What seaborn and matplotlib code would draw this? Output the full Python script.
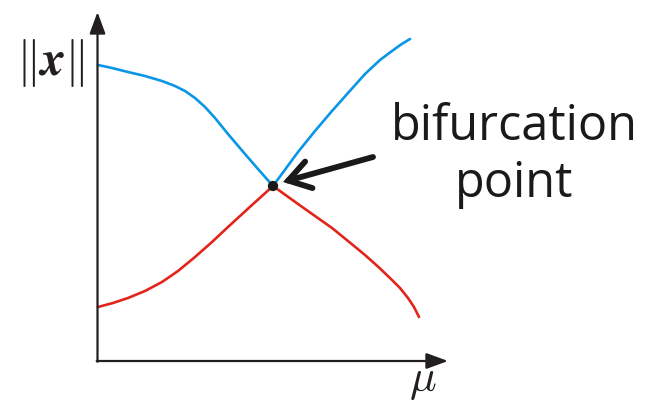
import numpy as np
import pandas as pd
import matplotlib
matplotlib.use("Agg")
import matplotlib.pyplot as plt
import seaborn as sns

# Upper branch (blue): ||x|| falls to the bifurcation point, then rises
mu_upper = [0.005, 0.145, 0.305, 0.475, 0.645, 0.775, 0.875, 0.975, 1.075,
            1.175, 1.305, 1.475, 1.605, 1.755,
            2.005, 2.175, 2.345, 2.505, 2.675, 2.825, 2.945, 3.035, 3.125]
norm_upper = [2.96, 2.93, 2.89, 2.85, 2.80, 2.75, 2.70, 2.63, 2.54,
              2.43, 2.27, 2.07, 1.92, 1.75,
              2.09, 2.30, 2.50, 2.68, 2.87, 3.01, 3.10, 3.165, 3.22]

# Lower branch (red): ||x|| rises to the bifurcation point, then falls
mu_lower = [0.005, 0.155, 0.305, 0.475, 0.645, 0.805, 0.975, 1.145, 1.305,
            1.425, 1.545, 1.645, 1.755,
            2.005, 2.175, 2.345, 2.505, 2.675, 2.815, 2.945, 3.025, 3.105,
            3.165, 3.215]
norm_lower = [0.54, 0.58, 0.63, 0.70, 0.79, 0.90, 1.04, 1.19, 1.34,
              1.45, 1.56, 1.65, 1.75,
              1.57, 1.45, 1.33, 1.20, 1.06, 0.935, 0.81, 0.73, 0.63,
              0.54, 0.44]

bif_mu = [1.755]
bif_norm = [1.75]

BLUE = "#0a96e6"
RED = "#e1251b"
INK = "#231f20"

sns.set_theme(style="white")
plt.rcParams["mathtext.fontset"] = "cm"

fig = plt.figure(figsize=(6.56, 4.03), dpi=100)
ax = fig.add_axes([0, 0, 1, 1])
ax.set_xlim(-0.975, 5.585)
ax.set_ylim(-0.42, 3.61)
ax.axis("off")

upper = pd.DataFrame({"mu": mu_upper, "norm": norm_upper})
lower = pd.DataFrame({"mu": mu_lower, "norm": norm_lower})
sns.lineplot(data=upper, x="mu", y="norm", color=BLUE, lw=1.9, sort=False,
             ax=ax, zorder=3)
sns.lineplot(data=lower, x="mu", y="norm", color=RED, lw=1.9, sort=False,
             ax=ax, zorder=3)
sns.scatterplot(x=bif_mu, y=bif_norm, color="#1a1a1a", s=55, edgecolor="none",
                ax=ax, zorder=5)

# Coordinate axes with arrow heads
axis_kw = dict(arrowstyle="-|>,head_length=0.6,head_width=0.22",
               color=INK, lw=1.6, shrinkA=0, shrinkB=0, mutation_scale=22)
ax.annotate("", xy=(0, 3.49), xytext=(0, -0.008), arrowprops=axis_kw)
ax.annotate("", xy=(3.505, 0), xytext=(-0.008, 0), arrowprops=axis_kw)

ax.text(-0.475, 2.98, r"$\|\boldsymbol{x}\|$", fontsize=35, ha="center",
        va="center", color=INK)
ax.text(3.255, -0.20, r"$\mu$", fontsize=32, ha="center", va="center",
        color=INK)

# Annotation pointing at the bifurcation point
ax.annotate("", xy=(1.855, 1.79), xytext=(2.755, 2.04),
            arrowprops=dict(arrowstyle="->,head_length=0.7,head_width=0.45",
                            color="#1a1a1a", lw=4.2, shrinkA=0, shrinkB=0,
                            capstyle="round", joinstyle="miter",
                            mutation_scale=22))
ax.text(4.165, 2.21, "bifurcation", fontsize=35,
        family="Open Sans", ha="center", va="baseline", color="#1a1a1a")
ax.text(4.165, 1.64, "point", fontsize=35,
        family="Open Sans", ha="center", va="baseline", color="#1a1a1a")

fig.savefig("out.png", dpi=100)
